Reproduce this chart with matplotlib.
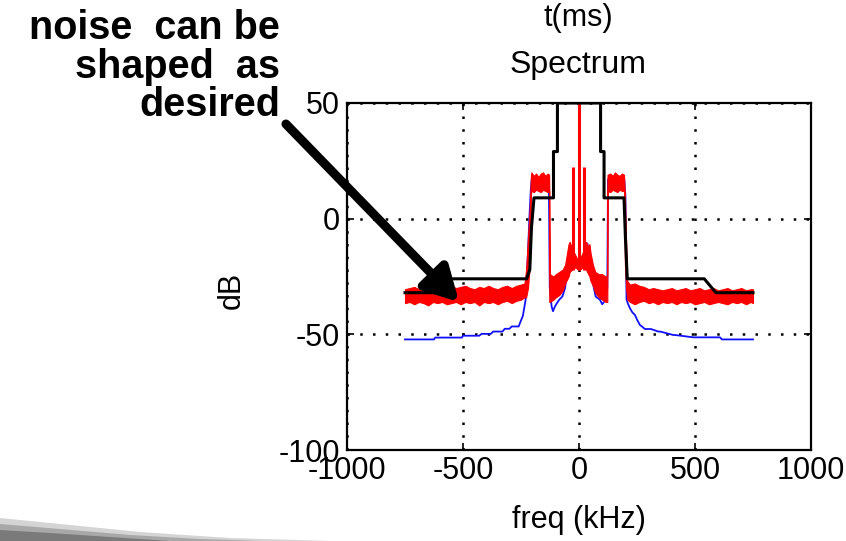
import matplotlib
matplotlib.use("Agg")
import matplotlib.pyplot as plt
from matplotlib.patches import FancyArrowPatch, Polygon

label_font = "Liberation Sans"

# ---- axis ticks ----
x_ticks = [-1000, -500, 0, 500, 1000]
y_ticks = [-100, -50, 0, 50]

# ---- spectrum mask (black) ----
mask_f = [-750, -600, -550, -226, -212, -205, -194, -110, -110, -93, -93,
          93, 93, 108, 108, 194, 200, 208, 540, 590, 750]
mask_db = [-32, -32, -26, -26, -22, -4, 9, 9, 29, 29, 50,
           50, 29, 29, 9, 9, -8, -26, -26, -32, -32]

# ---- spectrum without shaping (blue) ----
blue_f = [-750, -625, -620, -505, -500, -430, -420, -380, -370, -330, -320,
          -300, -290, -260, -252, -242, -236, -230, -225, -220, -214, -208,
          -204, -130, -126, -118, -112, -104, -95, -85, -72, -60, -50, -36,
          -25, -10, 0, 10, 25, 36, 50, 60, 72, 90, 100, 108, 115, 122, 125,
          195, 200, 205, 212, 220, 230, 241, 252, 263, 270, 284, 310, 342,
          350, 407, 415, 493, 500, 608, 616, 750]
blue_db = [-52.2, -52.2, -51.4, -51.4, -50.6, -50.6, -49.8, -49.8, -48.8, -48.8, -47.6,
           -47.6, -46.6, -46.6, -44.5, -42, -38.5, -35, -25, -15, 0, 12,
           17, 17, -30, -38, -40, -38, -36.5, -35, -33.7, -30, -22, -12,
           -14, -18, -19, -18, -14, -10.7, -20, -28, -33.7, -35, -37, -36, -34, -30, 17,
           17, 10, -35, -37, -38.8, -40.5, -41.6, -44, -46, -46.5, -47.7, -47.7, -48.8,
           -48.8, -50.3, -50.3, -51.3, -51.3, -51.3, -52.2, -52.2]

# ---- noise-shaped spectrum (red): band edges ----
red_f = [-750, -730, -710, -690, -670, -650, -630, -610, -590, -570, -550,
         -530, -510, -490, -470, -450, -430, -410, -390, -370, -350, -330,
         -310, -290, -270, -250, -235, -228, -220, -212, -207,
         -205, -195, -185, -175, -165, -155, -145, -135, -129, -128, -126,
         -110, -100, -85, -70, -60, -50, -45, -40, -30, -15, -5,
         5, 15, 30, 40, 45, 50, 60, 70, 85, 100, 115, 121, 122, 123,
         135, 145, 155, 165, 175, 185, 194, 198, 203, 208,
         220, 240, 260, 280, 300, 320, 340, 360, 380, 400, 420, 440, 460,
         480, 500, 520, 540, 560, 580, 600, 620, 640, 660, 680, 700, 720,
         740, 750]
red_hi = [-30.5, -30, -29.5, -30.5, -30, -29, -30, -30.5, -29.5, -30, -29,
          -30, -29.5, -29, -30, -30.5, -29.5, -30, -29, -30, -30.5, -29.5,
          -29, -30, -29, -28.5, -28, -22, -8, 5, 19,
          20, 18.5, 19.5, 18, 19.5, 20, 18.5, 19.5, 19, 12, -24,
          -25, -24, -23, -22, -20, -14, -11, -10, -13, -16, -18,
          -17, -15, -10, -12, -11, -15, -20, -23, -24, -24, -25, -25, 12, 19,
          19.5, 18.5, 20, 19, 18.5, 19.5, 19, 10, -10, -27,
          -28.5, -28, -29, -29.5, -30.5, -30, -30.5, -31, -30.5, -30, -31, -30.5, -30,
          -31, -30.5, -30, -31, -30.5, -30, -31, -30.5, -30, -31, -30.5, -30, -31,
          -30.5, -30.5]
red_lo = [-36.5, -36, -37, -36, -36.5, -37.5, -36, -36.5, -36, -37, -36.5,
          -36, -37, -36, -36.5, -36, -37.5, -36, -36.5, -36, -37, -36,
          -35.5, -36.5, -35.5, -35, -34, -34, -30, -20, 11,
          12, 11.5, 12.5, 12, 11.5, 12.5, 12, 11.5, 12, -36, -36,
          -35, -34, -33, -31, -28, -26, -25, -23, -22, -21, -22,
          -22, -21, -22, -24, -25, -27, -29, -32, -34, -35, -36, -36, -36, 12,
          11.5, 12.5, 12, 11.5, 12.5, 12, 12, -20, -30, -35,
          -36, -37, -36, -35.5, -36.5, -36, -37, -36, -36.5, -36, -37, -36, -36.5,
          -36, -37, -36.5, -36, -37, -36.5, -36, -36.5, -37, -36, -36.5, -36, -37,
          -36, -36.5]

# tones near the carrier (red)
tone_f = [-25, 0, 20]
tone_top = [22.5, 60, 22.5]
tone_base = [-22, -22, -22]

W, H = 846, 541
fig = plt.figure(figsize=(W / 100, H / 100), dpi=100)

# grey swoosh in the lower-left corner of the slide
for pts, shade in [
    ([(0, 518), (60, 524), (140, 532), (230, 538), (330, 541), (0, 541)], "#d4d4d4"),
    ([(0, 524), (60, 529), (130, 535), (200, 539), (260, 541), (0, 541)], "#a8a8a8"),
    ([(0, 530), (50, 533), (110, 537), (170, 541), (0, 541)], "#7a7a7a"),
]:
    fig.patches.append(Polygon([(x / W, 1 - y / H) for x, y in pts], closed=True,
                               transform=fig.transFigure, facecolor=shade,
                               edgecolor="none", zorder=0))

ax = fig.add_axes([347 / W, 1 - 450 / H, 464 / W, 347 / H])

ax.plot(blue_f, blue_db, color="#1010ff", lw=1.3, zorder=2)
ax.fill_between(red_f, red_lo, red_hi, facecolor="#ff0000", edgecolor="#ff0000",
                lw=0.8, zorder=3)
ax.vlines(tone_f, tone_base, tone_top, colors="#ff0000", lw=2.2, zorder=3)
ax.plot(mask_f, mask_db, color="black", lw=2.2, zorder=4)

ax.set_xlim(-1000, 1000)
ax.set_ylim(-100, 50)
ax.set_xticks(x_ticks)
ax.set_yticks(y_ticks)
ax.set_xticklabels([str(v) for v in x_ticks])
ax.set_yticklabels([str(v) for v in y_ticks])
ax.grid(True, color="black", linestyle=(0, (1, 4.1)), lw=1.8)
ax.set_axisbelow(True)
for s in ax.spines.values():
    s.set_linewidth(1.6)
ax.tick_params(direction="in", length=5, width=1.2, top=True, right=True,
               labelsize=22, colors="black")
ax.tick_params(axis="x", pad=4)
ax.tick_params(axis="y", pad=5)
for lab in ax.get_xticklabels() + ax.get_yticklabels():
    lab.set_fontfamily(label_font)

ax.set_xlabel("freq (kHz)", fontsize=22, family=label_font)
ax.xaxis.set_label_coords(0.5, (450 - 520) / 347)
ax.xaxis.label.set_va("center")
ax.set_ylabel("dB", fontsize=22, family=label_font)
ax.yaxis.set_label_coords((232 - 347) / 464, 0.5 - (290 - 276.5) / 347)
ax.yaxis.label.set_va("center")
fig.text(578 / W, 1 - 65 / H, "Spectrum", fontsize=23, family=label_font,
         ha="center", va="center")
fig.text(578 / W, 1 - 18 / H, "t(ms)", fontsize=22, family=label_font,
         ha="center", va="center")

# callout
note_lines = ["noise  can be", "shaped  as", "desired"]
note_y = [28, 67, 105]
for line, yy in zip(note_lines, note_y):
    fig.text(280 / W, 1 - yy / H, line, fontsize=28.5, weight="bold",
             family="Liberation Sans", ha="right", va="center")
arrow = FancyArrowPatch((284, H - 122), (461, H - 304),
                        transform=None, arrowstyle="-|>,head_length=20,head_width=11",
                        lw=6.5, color="black", mutation_scale=1, zorder=10)
fig.patches.append(arrow)

fig.savefig("out.png", dpi=100)
